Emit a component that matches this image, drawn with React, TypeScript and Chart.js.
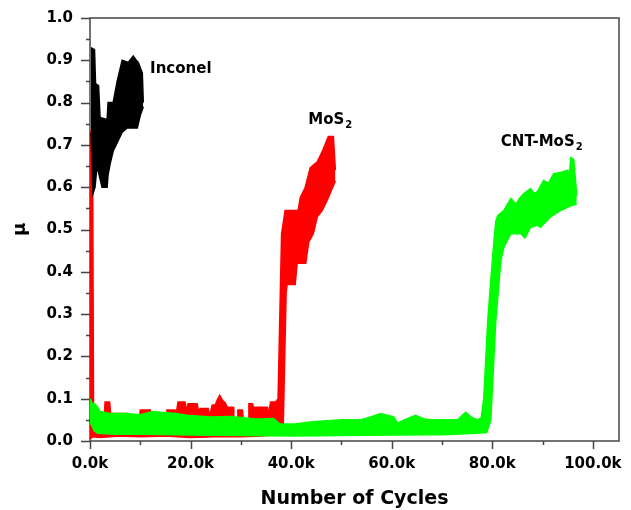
import React, { useEffect, useRef } from 'react';
import { Chart, registerables } from 'chart.js';

Chart.register(...registerables);

type Pt = [number, number];

// x values are in thousands of cycles, y values are the friction coefficient μ
const xTickValues = [0, 10, 20, 30, 40, 50, 60, 70, 80, 90, 100];
const xLabelEvery = 20;
const xMin = 0;
const xMax = 105.2;
const yTickValues = [0, 0.05, 0.1, 0.15, 0.2, 0.25, 0.3, 0.35, 0.4, 0.45, 0.5, 0.55, 0.6, 0.65, 0.7, 0.75, 0.8, 0.85, 0.9, 0.95, 1.0];
const yMin = 0;
const yMax = 1.0;

const seriesNames = ['Inconel', 'CNT-MoS2', 'MoS2'];
const seriesColors = ['#000000', '#00ff00', '#ff0000'];

// Inconel: upper and lower envelope of the oscillating trace
const inconelUpper: Pt[] = [
  [0.2, 0.93], [0.9, 0.925], [1.1, 0.845], [1.7, 0.84], [2.0, 0.765], [3.4, 0.76], [3.6, 0.8],
  [4.6, 0.8], [5.4, 0.85], [6.0, 0.88], [6.4, 0.9], [7.6, 0.895], [8.6, 0.91], [9.2, 0.9], [9.6, 0.895],
  [10.4, 0.87], [10.6, 0.8],
];
const inconelLower: Pt[] = [
  [0.2, 0.73], [0.6, 0.585], [1.0, 0.6], [1.4, 0.65], [2.0, 0.62], [2.4, 0.6], [3.4, 0.6], [3.6, 0.63],
  [4.0, 0.655], [4.6, 0.685], [5.6, 0.71], [6.4, 0.73], [7.4, 0.74], [9.4, 0.74], [10.0, 0.77], [10.6, 0.79],
];

// MoS2
const mos2Upper: Pt[] = [
  [0, 0.03], [0.1, 0.73], [0.5, 0.72], [0.7, 0.08], [1.2, 0.05], [2.8, 0.05], [3.0, 0.092], [3.9, 0.092],
  [4.1, 0.065], [7.4, 0.065], [7.6, 0.05], [9.8, 0.05], [10.0, 0.073], [12.0, 0.073], [12.2, 0.055],
  [15.2, 0.055], [15.3, 0.073], [16.9, 0.073], [17.1, 0.06], [17.5, 0.092], [18.9, 0.092], [19.2, 0.07],
  [19.5, 0.088], [21.3, 0.088], [21.6, 0.07], [21.9, 0.077], [23.5, 0.077], [23.8, 0.06], [24.3, 0.085],
  [24.9, 0.085], [25.3, 0.097], [25.8, 0.108], [26.3, 0.097], [26.9, 0.09], [27.3, 0.08], [28.5, 0.08],
  [28.6, 0.045], [29.3, 0.045], [29.4, 0.073], [30.3, 0.073], [30.5, 0.05], [31.5, 0.05], [31.6, 0.088],
  [32.3, 0.088], [32.5, 0.08], [35.3, 0.08], [35.5, 0.06], [35.9, 0.092], [36.9, 0.092], [37.4, 0.1],
  [38.1, 0.49], [38.8, 0.545], [41.4, 0.545], [41.8, 0.575], [42.8, 0.6], [43.8, 0.646], [45.2, 0.66],
  [45.8, 0.675], [46.4, 0.69], [47.4, 0.72], [48.4, 0.72], [48.8, 0.64],
];
const mos2Lower: Pt[] = [
  [0, 0.004], [0.5, 0.01], [2, 0.008], [6, 0.012], [10, 0.01], [15, 0.012], [20, 0.008], [25, 0.01], [30, 0.01],
  [34, 0.012], [37, 0.015], [38.4, 0.02], [39.0, 0.35], [39.2, 0.37], [40.8, 0.37], [41.2, 0.42], [42.9, 0.42],
  [43.5, 0.47], [44.4, 0.49], [45.2, 0.53], [46.2, 0.545], [47.2, 0.57], [48.8, 0.615],
];

// CNT-MoS2
const cntUpper: Pt[] = [
  [0, 0.1], [0.4, 0.09], [1.0, 0.088], [1.6, 0.078], [2.0, 0.07], [4.0, 0.065], [7.0, 0.065], [10.0, 0.062],
  [12.5, 0.07], [14.0, 0.068], [17.0, 0.065], [20.0, 0.06], [24.0, 0.057], [28.0, 0.058], [33.0, 0.052],
  [36.5, 0.053], [37.8, 0.04], [40.6, 0.04], [43.8, 0.045], [47.0, 0.048], [50.4, 0.05], [53.8, 0.05],
  [55.8, 0.057], [57.8, 0.065], [60.4, 0.057], [61.2, 0.042], [62.5, 0.05], [64.7, 0.061], [66.5, 0.052],
  [67.7, 0.05], [70.0, 0.05], [73.1, 0.05], [74.7, 0.068], [76.0, 0.055], [77.1, 0.05], [77.8, 0.055],
  [78.3, 0.1], [79.1, 0.285], [80.1, 0.44], [80.7, 0.52], [81.1, 0.533], [82.3, 0.545], [83.7, 0.573],
  [84.7, 0.56], [85.5, 0.575], [86.3, 0.585], [87.6, 0.597], [88.3, 0.585], [89.0, 0.59], [90.2, 0.616],
  [91.2, 0.61], [92.2, 0.632], [93.6, 0.635], [95.0, 0.64], [95.3, 0.62], [95.6, 0.67], [96.2, 0.665],
  [96.8, 0.58],
];
const cntLower: Pt[] = [
  [0, 0.045], [0.8, 0.025], [1.5, 0.018], [5, 0.016], [10, 0.016], [20, 0.014], [30, 0.013], [40, 0.012],
  [50, 0.013], [60, 0.014], [70, 0.015], [76, 0.018], [78.9, 0.02], [79.7, 0.05], [80.7, 0.285], [81.7, 0.427],
  [82.3, 0.458], [83.7, 0.49], [85.7, 0.49], [86.5, 0.48], [87.6, 0.505], [89.0, 0.51], [89.6, 0.505],
  [91.6, 0.53], [93.6, 0.545], [95.6, 0.556], [96.8, 0.56],
];

// in-plot labels (text, subscript, anchor in data units)
const labelTexts = ['Inconel', 'MoS', 'CNT-MoS'];
const labelSubs = ['', '2', '2'];
const labelX = [11.95, 43.4, 81.7];
const labelY = [0.869, 0.75, 0.698];

const FONT = '"DejaVu Sans", "Liberation Sans", Arial, sans-serif';

const toXY = (pts: Pt[]) => pts.map(([x, y]) => ({ x, y }));

const framePlugin = {
  id: 'frameTicks',
  beforeDatasetsDraw(chart: any) {
    const { ctx, chartArea: a, scales } = chart;
    const xs = scales.x;
    const ys = scales.y;
    ctx.save();
    ctx.strokeStyle = '#444';
    ctx.lineWidth = 1.5;
    ctx.strokeRect(a.left, a.top, a.right - a.left, a.bottom - a.top);
    ctx.beginPath();
    for (const v of xTickValues) {
      const px = Math.round(xs.getPixelForValue(v)) + 0.5;
      const major = v % xLabelEvery === 0;
      ctx.moveTo(px, a.bottom);
      ctx.lineTo(px, a.bottom + (major ? 8 : 4));
    }
    for (const v of yTickValues) {
      const py = Math.round(ys.getPixelForValue(v)) + 0.5;
      const major = Math.round(v * 100) % 10 === 0;
      ctx.moveTo(a.left, py);
      ctx.lineTo(a.left - (major ? 9 : 4), py);
    }
    ctx.stroke();
    ctx.restore();
  },
};

const labelPlugin = {
  id: 'seriesLabels',
  afterDatasetsDraw(chart: any) {
    const { ctx, scales } = chart;
    ctx.save();
    ctx.fillStyle = '#000';
    ctx.textBaseline = 'alphabetic';
    ctx.textAlign = 'left';
    labelTexts.forEach((t, i) => {
      const px = scales.x.getPixelForValue(labelX[i]);
      const py = scales.y.getPixelForValue(labelY[i]);
      ctx.font = `bold 15px ${FONT}`;
      ctx.fillText(t, px, py);
      if (labelSubs[i]) {
        const w = ctx.measureText(t).width;
        ctx.font = `bold 10px ${FONT}`;
        ctx.fillText(labelSubs[i], px + w + 1, py + 4);
      }
    });
    ctx.restore();
  },
};

export default function App() {
  const ref = useRef<HTMLCanvasElement>(null);

  useEffect(() => {
    if (!ref.current) return;
    const envelopes: [Pt[], Pt[]][] = [
      [inconelUpper, inconelLower],
      [cntUpper, cntLower],
      [mos2Upper, mos2Lower],
    ];
    const datasets: any[] = [];
    envelopes.forEach(([up, low], i) => {
      const common: any = {
        borderColor: seriesColors[i],
        backgroundColor: seriesColors[i],
        borderWidth: 1.5,
        pointRadius: 0,
        tension: 0,
      };
      datasets.push({ ...common, label: seriesNames[i], data: toXY(up), fill: '+1' });
      datasets.push({ ...common, label: seriesNames[i] + ' (lower)', data: toXY(low), fill: false });
    });
    const chart = new Chart(ref.current, {
      type: 'line',
      data: { datasets },
      options: {
        animation: false,
        responsive: true,
        maintainAspectRatio: false,
        layout: { padding: { top: 16, right: 12, left: 0, bottom: 0 } },
        plugins: {
          legend: { display: false },
          tooltip: { enabled: false },
          filler: { propagate: false },
        },
        scales: {
          x: {
            type: 'linear',
            min: xMin,
            max: xMax,
            afterBuildTicks: (s: any) => {
              s.ticks = xTickValues.map((v) => ({ value: v }));
            },
            afterFit: (s: any) => {
              s.height = 69;
            },
            ticks: {
              autoSkip: false,
              maxRotation: 0,
              padding: 6,
              color: '#000',
              font: { family: FONT, size: 15, weight: 'bold' },
              callback: (v: any) => (Number(v) % xLabelEvery === 0 ? `${Number(v).toFixed(1)}k` : ''),
            },
            grid: { drawOnChartArea: false, drawTicks: true, tickLength: 8, color: 'rgba(0,0,0,0)' },
            border: { display: false },
            title: {
              display: true,
              text: 'Number of Cycles',
              color: '#000',
              font: { family: FONT, size: 19, weight: 'bold' },
              padding: { top: 0, bottom: 0 },
            },
          },
          y: {
            type: 'linear',
            min: yMin,
            max: yMax,
            afterBuildTicks: (s: any) => {
              s.ticks = yTickValues.map((v) => ({ value: v }));
            },
            afterFit: (s: any) => {
              s.width = 90;
            },
            ticks: {
              autoSkip: false,
              padding: 9,
              color: '#000',
              font: { family: FONT, size: 15, weight: 'bold' },
              callback: (v: any) => (Math.round(Number(v) * 100) % 10 === 0 ? Number(v).toFixed(1) : ''),
            },
            grid: { drawOnChartArea: false, drawTicks: true, tickLength: 8, color: 'rgba(0,0,0,0)' },
            border: { display: false },
            title: {
              display: true,
              text: 'μ',
              color: '#000',
              font: { family: FONT, size: 18, weight: 'bold' },
              padding: { top: 10, bottom: 0 },
            },
          },
        },
      } as any,
      plugins: [framePlugin, labelPlugin],
    });
    return () => chart.destroy();
  }, []);

  return (
    <div style={{ position: 'fixed', left: 0, top: 0, width: 631, height: 510, background: '#fff' }}>
      <canvas ref={ref} />
    </div>
  );
}
